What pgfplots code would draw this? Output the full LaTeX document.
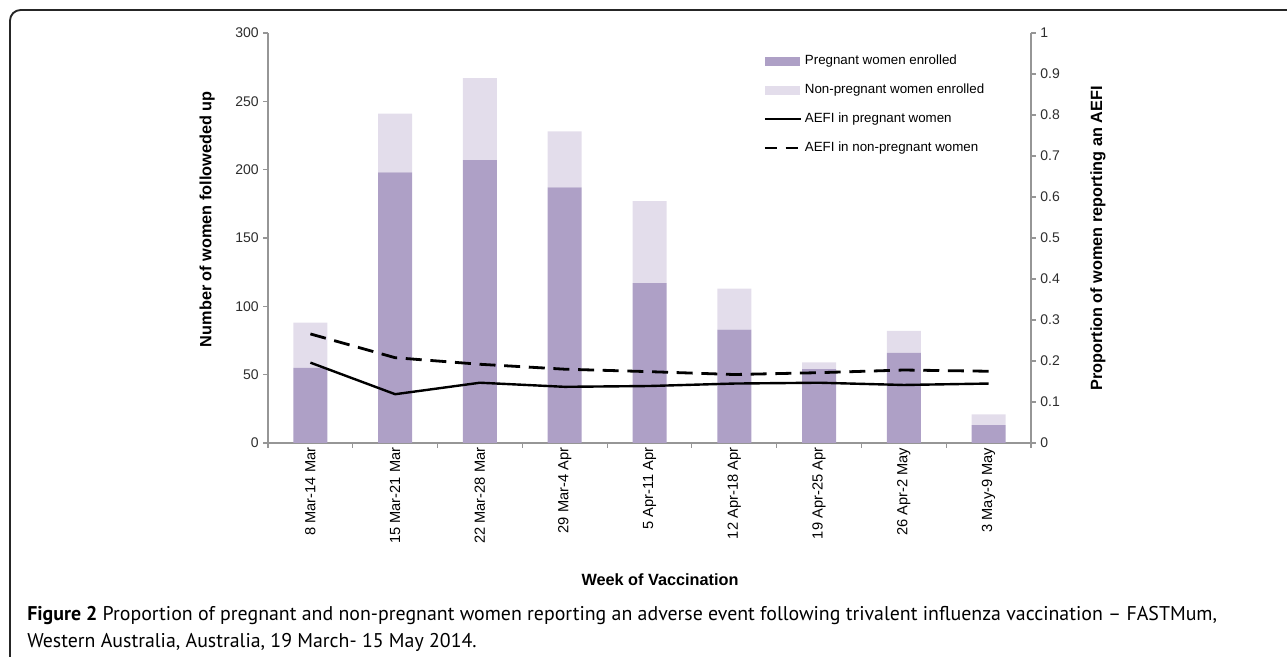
\documentclass[border=0pt]{standalone}
\usepackage{fontspec}
\setmainfont{Liberation Sans}
\newfontfamily\capfont{PT Sans}
\usepackage{pgfplots}
\pgfplotsset{compat=1.18}
\definecolor{preg}{RGB}{174,160,198}
\definecolor{nonpreg}{RGB}{227,221,235}
\definecolor{axgray}{RGB}{150,150,150}
\definecolor{ticktext}{RGB}{45,45,45}

\pgfplotstableread{
x preg nonpreg
0 55 33
1 198 43
2 207 60
3 187 41
4 117 60
5 83 30
6 54 5
7 66 16
8 13 8
}\bars

\pgfplotsset{
 common/.style={
  scale only axis, width=572.25pt, height=307.5pt,
  at={(201pt,159.75pt)}, anchor=south west,
  xmin=-0.5, xmax=8.5,
  axis line style={axgray, line width=1.1pt},
  tick style={axgray, line width=0.9pt},
  major tick length=3.5pt,
  tick align=outside,
  tick label style={font=\fontsize{10.5}{12}\selectfont, text=ticktext},
  /pgf/number format/assume math mode=true,
  label style={font=\bfseries\fontsize{12.2}{14}\selectfont, text=black},
 }
}

\begin{document}
\begin{tikzpicture}
\path[use as bounding box] (0,0) rectangle (965.25pt,492pt);
\draw[line width=1.4pt, black!85, rounded corners=8pt] (7.5pt,-3pt) -- (7.5pt,484.5pt) -- (970pt,484.5pt);

\begin{axis}[common,
  ymin=0, ymax=300, ytick={0,50,100,150,200,250,300},
  axis x line*=bottom, axis y line*=left,
  xtick={-0.5,0.5,1.5,2.5,3.5,4.5,5.5,6.5,7.5,8.5},
  xticklabels={},
  extra x ticks={0,1,2,3,4,5,6,7,8},
  extra x tick labels={8 Mar-14 Mar,15 Mar-21 Mar,22 Mar-28 Mar,29 Mar-4 Apr,5 Apr-11 Apr,12 Apr-18 Apr,19 Apr-25 Apr,26 Apr-2 May,3 May-9 May},
  extra x tick style={major tick length=0pt, xticklabel style={rotate=90, anchor=east, font=\fontsize{11}{12}\selectfont, text=black}},
  ybar stacked, bar width=25.5pt,
  ylabel={Number of women followeded up},
  ylabel style={at={(axis description cs:-0.0799,0.546)}, anchor=center, rotate=0},
  xlabel={Week of Vaccination},
  xlabel style={at={(axis description cs:0.5138,-0.334)}, anchor=center},
]
\addplot[fill=preg, draw=none] table[x=x, y=preg] {\bars};
\addplot[fill=nonpreg, draw=none] table[x=x, y=nonpreg] {\bars};
\end{axis}

\begin{axis}[common,
  ymin=0, ymax=1, ytick={0,0.1,0.2,0.3,0.4,0.5,0.6,0.7,0.8,0.9,1},
  axis x line=none, axis y line*=right,
  yticklabel style={/pgf/number format/.cd, fixed, precision=1},
  ylabel={Proportion of women reporting an AEFI},
  ylabel style={at={(axis description cs:1.0878,0.499)}, anchor=center},
  legend style={draw=none, fill=none, at={(0.649,0.953)}, anchor=north west,
    font=\fontsize{10}{12}\selectfont, row sep=9pt, inner sep=0pt,
    /tikz/every even column/.append style={column sep=2pt}},
  legend cell align=left,
]
\addlegendimage{legend image code/.code={\fill[preg] (0pt,-3pt) rectangle (26pt,3pt);}}
\addlegendentry{Pregnant women enrolled}
\addlegendimage{legend image code/.code={\fill[nonpreg] (0pt,-3pt) rectangle (26pt,3pt);}}
\addlegendentry{Non-pregnant women enrolled}
\addplot[black, line width=1.8pt, legend image code/.code={\draw[black, line width=1.8pt] (0pt,0pt) -- (27pt,0pt);}]
 coordinates {(0,0.196)(1,0.119)(2,0.147)(3,0.137)(4,0.139)(5,0.145)(6,0.147)(7,0.1415)(8,0.145)};
\addlegendentry{AEFI in pregnant women}
\addplot[black, line width=2.1pt, dash pattern=on 12pt off 6.5pt, legend image code/.code={\draw[black, line width=2.1pt, dash pattern=on 9pt off 6.5pt] (0pt,0pt) -- (27pt,0pt);}]
 coordinates {(0,0.266)(1,0.208)(2,0.192)(3,0.18)(4,0.174)(5,0.167)(6,0.1715)(7,0.178)(8,0.175)};
\addlegendentry{AEFI in non-pregnant women}
\end{axis}

\node[anchor=base west, inner sep=0pt, font=\capfont\fontsize{14.9}{16}\selectfont] at (20.25pt,27pt)
  {\textbf{Figure 2} Proportion of pregnant and non-pregnant women reporting an adverse event following trivalent influenza vaccination – FASTMum,};
\node[anchor=base west, inner sep=0pt, font=\capfont\fontsize{14.9}{16}\selectfont] at (20.25pt,6pt)
  {Western Australia, Australia, 19 March- 15 May 2014.};
\end{tikzpicture}
\end{document}
